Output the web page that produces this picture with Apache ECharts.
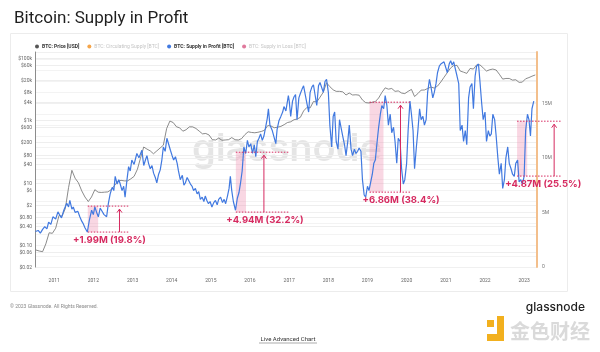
<!DOCTYPE html>
<html>
<head>
<meta charset="utf-8">
<script src="https://cdn.jsdelivr.net/npm/echarts@6/dist/echarts.min.js"></script>
<style>
  html, body { margin: 0; padding: 0; background: #fff; }
  #main { width: 600px; height: 352px; }
</style>
</head>
<body>
<div id="main"></div>
<script>
// BTC price, one value per month from 2010-07 to 2023-04 (USD)
var btcPrice = [
  0.07, 0.065, 0.062, 0.11, 0.25, 0.24,
  0.35, 0.9, 0.85, 1.5, 7, 25, 14, 10, 5.5, 3.5, 2.5, 3.5,
  6, 5, 4.9, 5, 5.1, 6, 8, 11, 12, 11.5, 11.5, 13.3,
  16, 27, 60, 140, 120, 105, 85, 105, 130, 160, 550, 950,
  850, 620, 580, 450, 500, 620, 620, 550, 450, 370, 380, 340,
  240, 235, 270, 230, 235, 240, 280, 240, 235, 260, 350, 430,
  410, 400, 415, 440, 480, 680, 660, 580, 605, 640, 730, 850,
  900, 1050, 1100, 1250, 2000, 2600, 2500, 4000, 3900, 5500, 8000, 16000,
  12000, 9500, 8500, 8500, 8200, 6500, 7500, 6500, 6600, 6400, 4500, 3700,
  3600, 3800, 4000, 5200, 7800, 11000, 10000, 10500, 8500, 8800, 7500, 7200,
  8500, 9800, 5800, 7200, 9300, 9400, 10500, 11700, 10800, 12500, 17000, 24000,
  34000, 48000, 57000, 58000, 38000, 35000, 32000, 46000, 44000, 60000, 60000, 48000,
  38000, 42000, 44000, 41000, 30000, 21000, 22000, 22000, 19500, 20000, 16500, 16800,
  21500, 23500, 26000, 28500
];

// Supply in profit before 2017 (millions of BTC)
var supplyEarlyDates = [
  '2010-07-10','2010-08-05','2010-08-25','2010-09-15','2010-10-05','2010-10-25','2010-11-10','2010-12-01','2010-12-20',
  '2011-01-15','2011-02-05','2011-02-25','2011-03-10','2011-04-01','2011-04-28','2011-05-15','2011-05-27','2011-06-15',
  '2011-06-28','2011-07-15','2011-07-27','2011-08-10','2011-08-28','2011-09-15','2011-09-27','2011-10-15','2011-11-06',
  '2011-11-25','2011-12-16','2012-01-01','2012-01-15','2012-02-01','2012-02-17','2012-03-05','2012-03-17','2012-04-10',
  '2012-05-04','2012-05-20','2012-06-06','2012-06-25','2012-07-10','2012-07-23','2012-08-10','2012-08-25','2012-09-05',
  '2012-09-25','2012-10-10','2012-10-23','2012-11-10','2012-11-25','2012-12-10','2012-12-25','2013-01-15','2013-02-10',
  '2013-03-01','2013-03-29','2013-04-15','2013-05-01','2013-05-15','2013-05-30','2013-06-15','2013-07-01','2013-07-16',
  '2013-08-01','2013-08-15','2013-09-01','2013-09-16','2013-10-01','2013-10-15','2013-11-01','2013-11-17','2013-12-05',
  '2013-12-20','2014-01-05','2014-01-19','2014-02-05','2014-02-21','2014-03-05','2014-03-22','2014-04-10','2014-04-25',
  '2014-05-08','2014-05-25','2014-06-10','2014-06-25','2014-07-10','2014-07-24','2014-08-10','2014-08-26','2014-09-10',
  '2014-09-25','2014-10-12','2014-10-28','2014-11-10','2014-11-25','2014-12-10','2014-12-25','2015-01-11','2015-01-28',
  '2015-02-13','2015-03-01','2015-03-15','2015-04-02','2015-04-20','2015-05-05','2015-05-19','2015-06-05','2015-06-20',
  '2015-07-02','2015-07-15','2015-07-30','2015-08-19','2015-09-05','2015-09-20','2015-10-05','2015-10-20','2015-11-05',
  '2015-11-22','2015-12-08','2015-12-22','2016-01-08','2016-01-25','2016-02-10','2016-02-24','2016-03-10','2016-03-25',
  '2016-04-09','2016-04-25','2016-05-10','2016-05-26','2016-06-10','2016-06-21','2016-07-05','2016-07-27','2016-08-10',
  '2016-08-29','2016-09-10','2016-09-27','2016-10-15','2016-11-01','2016-11-13','2016-12-01','2016-12-24'
];
var supplyEarlyM = [
  3.25, 3.35, 3.1, 3.45, 3.7, 3.5, 4.1, 3.9, 4.6,
  4.4, 5.05, 4.7, 4.5, 5.2, 5.85, 5.5, 6.1, 5.3,
  5.5, 5.0, 4.9, 5.1, 4.6, 4.2, 4.0, 3.6, 3.2,
  4.3, 5.2, 4.8, 5.5, 5.0, 4.6, 5.4, 5.2, 4.8,
  4.6, 5.8, 6.7, 7.3, 7.0, 8.3, 7.6, 8.0, 7.7,
  7.0, 7.4, 6.4, 8.0, 9.2, 8.8, 9.8, 9.4, 10.4,
  10.0, 10.7, 9.3, 9.8, 10.2, 9.5, 9.0, 9.3, 8.6,
  8.2, 7.7, 8.5, 8.9, 9.8, 11.0, 10.6, 11.8, 11.2,
  10.7, 10.2, 9.8, 10.1, 9.5, 8.8, 8.0, 8.4, 7.5,
  7.7, 8.2, 8.3, 7.6, 7.4, 7.0, 7.2, 6.7, 6.9,
  6.2, 6.4, 6.0, 6.5, 6.1, 5.8, 6.0, 5.5, 5.9,
  6.1, 5.7, 6.2, 6.4, 5.9, 6.2, 5.8, 6.5, 7.2,
  8.3, 7.0, 6.0, 5.2, 6.3, 6.8, 7.7, 8.8, 11.0,
  10.4, 11.6, 11.0, 11.3, 10.4, 11.2, 10.1, 11.5, 11.8,
  12.2, 11.6, 12.0, 11.9, 13.6, 14.5, 13.0, 12.5, 12.0,
  11.3, 12.6, 13.4, 13.8, 14.2, 14.7, 14.3, 15.7
];

// Supply in profit from 2017, on the 1st and 15th of each month (millions of BTC)
var supplyLateM = [
  15.2, 13.8, 15.2, 15.6, 15.8, 13.5, 15.5, 15.9, 16.3, 16.6, 16.6, 15.0, 14.2, 16.0, 16.5, 16.7, 16.8, 14.8, 16.6, 16.9, 16.8, 16.0, 17.0, 17.2,
  16.0, 13.0, 11.0, 13.8, 14.2, 11.5, 10.8, 13.5, 13.6, 12.0, 11.2, 10.2, 11.5, 13.0, 10.8, 10.2, 10.8, 10.4, 10.6, 10.9, 10.6, 8.0, 6.6, 6.4,
  7.4, 7.0, 6.9, 8.5, 9.5, 9.8, 11.5, 12.8, 14.0, 14.8, 14.5, 15.7, 14.8, 13.0, 14.0, 12.3, 12.8, 11.5, 9.5, 11.8, 11.5, 9.0, 7.6, 8.0,
  9.5, 12.5, 15.2, 14.0, 12.5, 9.0, 11.0, 12.5, 14.5, 13.5, 13.8, 13.0, 13.5, 16.0, 17.2, 16.5, 15.5, 16.0, 16.8, 17.8, 18.4, 18.6, 18.5, 18.8,
  18.8, 17.8, 18.6, 18.9, 18.5, 18.8, 18.9, 17.5, 16.8, 12.5, 13.0, 11.5, 12.5, 11.2, 15.5, 16.5, 16.8, 14.5, 17.5, 18.4, 18.6, 17.0, 15.0, 13.5,
  14.2, 11.5, 12.5, 12.0, 12.2, 14.0, 13.5, 12.0, 10.0, 8.5, 9.5, 7.2, 8.0, 10.0, 11.0, 9.5, 9.0, 8.5, 8.3, 9.5, 9.8, 7.8, 8.0, 7.6,
  8.3, 12.5, 14.0, 13.5, 12.0, 14.5, 15.2
];

// left axis ticks (log scale)
var priceTicks = [100000, 60000, 20000, 8000, 4000, 1000, 600, 200, 80, 40, 10, 6, 2, 0.8, 0.4, 0.1, 0.06, 0.02];
var priceTickLabels = ['$100k', '$60k', '$20k', '$8k', '$4k', '$1k', '$600', '$200', '$80', '$40', '$10', '$6', '$2', '$0.80', '$0.40', '$0.10', '$0.06', '$0.02'];
var years = [2011, 2012, 2013, 2014, 2015, 2016, 2017, 2018, 2019, 2020, 2021, 2022, 2023];

// annotations: accumulation windows
var annStart = ['2011-11-10', '2015-08-22', '2019-01-20', '2022-10-27'];
var annShadeEnd = ['2012-02-15', '2015-11-25', '2019-05-30', '2023-01-30'];
var annLineEnd = ['2012-12-01', '2017-01-01', '2020-02-15', '2023-12-15'];
var annArrow = ['2012-09-01', '2016-05-10', '2019-11-05', '2023-10-08'];
var annTextAt = ['2012-05-30', '2016-05-20', '2019-11-10', '2023-06-28'];
var annLowM = [3.2, 5.03, 6.86, 8.33];
var annHighM = [5.58, 10.52, 15.1, 13.36];
var annLabel = ['+1.99M (19.8%)', '+4.94M (32.2%)', '+6.86M (38.4%)', '+4.87M (25.5%)'];

function toTime(d) {
    var p = d.split('-');
    return new Date(+p[0], +p[1] - 1, +p[2]).getTime();
}

var priceData = btcPrice.map(function (v, i) {
    return [new Date(2010, 6 + i, 15).getTime(), v];
});
var profitData = supplyEarlyDates.map(function (d, i) {
    return [toTime(d), supplyEarlyM[i] * 1e6];
});
supplyLateM.forEach(function (v, i) {
    var d = new Date(2017, Math.floor(i / 2), i % 2 ? 15 : 1);
    profitData.push([d.getTime(), v * 1e6]);
});

var red = '#d62a60';
var dimText = { color: '#c4c4c4', fontWeight: 400 };
var chart = echarts.init(document.getElementById('main'));
var option = {
    animation: false,
    textStyle: { fontFamily: 'Roboto, sans-serif' },
    title: {
        text: 'Bitcoin: Supply in Profit',
        left: 9, top: 5,
        textStyle: { fontSize: 17, fontWeight: 400, color: '#1f1f1f', fontFamily: 'Roboto' }
    },
    legend: {
        left: 30, top: 39,
        icon: 'circle', itemWidth: 4, itemHeight: 4, itemGap: 8,
        textStyle: { fontSize: 5, fontWeight: 700, color: '#333', padding: [0, 0, 0, -2] },
        data: [
            { name: 'BTC: Price [USD]' },
            { name: 'BTC: Circulating Supply [BTC]', textStyle: dimText },
            { name: 'BTC: Supply in Profit [BTC]' },
            { name: 'BTC: Supply in Loss [BTC]', textStyle: dimText }
        ]
    },
    grid: { left: 35, right: 63, top: 52, bottom: 85, outerBoundsMode: 'none' },
    xAxis: {
        type: 'time',
        min: new Date(2010, 6, 6).getTime(),
        max: new Date(2023, 4, 1).getTime(),
        axisLine: { show: false },
        axisTick: { show: false },
        splitLine: { show: false },
        axisLabel: { show: false }
    },
    yAxis: [{
        type: 'log', min: 0.02, max: 155000,
        axisLine: { show: true, lineStyle: { color: '#8c8c8c', width: 1 } },
        axisLabel: { show: false },
        axisTick: { show: false },
        splitLine: { show: false }
    }, {
        type: 'value', min: 0, max: 19.7e6, interval: 5e6, position: 'right',
        axisLine: { show: true, lineStyle: { color: '#f3bf8c', width: 2 } },
        axisTick: { show: false },
        axisLabel: {
            fontSize: 5, color: '#777', margin: 5, showMaxLabel: false,
            formatter: function (v) { return v === 0 ? '0' : (v / 1e6) + 'M'; }
        },
        splitLine: { show: true, lineStyle: { color: '#f0f0f0', width: 1 } },
        minorTick: { show: false, splitNumber: 5 },
        minorSplitLine: { show: true, lineStyle: { color: '#f3f3f3', width: 1 } }
    }],
    series: [{
        name: 'BTC: Price [USD]', type: 'line', yAxisIndex: 0,
        data: priceData, showSymbol: false, z: 3,
        itemStyle: { color: '#555' },
        lineStyle: { color: '#6d6d6d', width: 0.8 }
    }, {
        name: 'BTC: Circulating Supply [BTC]', type: 'line', yAxisIndex: 1,
        data: [], itemStyle: { color: '#f5a54a' }
    }, {
        name: 'BTC: Supply in Profit [BTC]', type: 'line', yAxisIndex: 1,
        data: profitData, showSymbol: false, z: 4,
        itemStyle: { color: '#4179e0' },
        lineStyle: { color: '#4179e0', width: 1.2 }
    }, {
        name: 'BTC: Supply in Loss [BTC]', type: 'line', yAxisIndex: 1,
        data: [], itemStyle: { color: '#e0799c' }
    }]
};
chart.setOption(option);

// extra drawing through the chart's own scales
function xPix(d) { return chart.convertToPixel({ xAxisIndex: 0 }, typeof d === 'string' ? toTime(d) : d); }
function pricePix(v) { return chart.convertToPixel({ yAxisIndex: 0 }, v); }
function supplyPix(v) { return chart.convertToPixel({ yAxisIndex: 1 }, v); }

var gx0 = xPix(option.xAxis.min), gx1 = xPix(option.xAxis.max);
var gy1 = supplyPix(0);
var graphics = [];

// card outline and footer
graphics.push({ type: 'rect', z: -20, shape: { x: 10.5, y: 33.5, width: 557, height: 258 }, style: { fill: 'none', stroke: '#ececec', lineWidth: 1 } });
graphics.push({ type: 'text', x: 10, y: 307, style: { text: '© 2023 Glassnode. All Rights Reserved.', fontSize: 5, fill: '#888', verticalAlign: 'middle', fontFamily: 'Roboto' } });
graphics.push({ type: 'text', x: 585, y: 307, style: { text: 'glassnode', fontSize: 12, fill: '#222', align: 'right', verticalAlign: 'middle', fontFamily: 'Inter', fontWeight: 500 } });
graphics.push({ type: 'text', x: 288, y: 339, style: { text: 'Live Advanced Chart', fontSize: 6, fill: '#333', align: 'center', verticalAlign: 'middle', fontFamily: 'Roboto' } });
graphics.push({ type: 'line', shape: { x1: 259, y1: 343, x2: 317, y2: 343 }, style: { stroke: '#555', lineWidth: 0.5 } });

// 金色财经 watermark
graphics.push({ type: 'rect', shape: { x: 487, y: 320, width: 7, height: 7 }, style: { fill: '#f2b01e' } });
graphics.push({ type: 'rect', shape: { x: 497, y: 316, width: 7, height: 25 }, style: { fill: '#f2b01e' } });
graphics.push({ type: 'rect', shape: { x: 487, y: 334, width: 17, height: 7 }, style: { fill: '#f2b01e' } });
graphics.push({ type: 'text', x: 550, y: 331, style: { text: '金色财经', fontSize: 20, fill: '#dadada', align: 'center', verticalAlign: 'middle', fontFamily: 'Noto Sans CJK SC', fontWeight: 700 } });

// glassnode watermark inside the plot
graphics.push({ type: 'text', z: -5, x: 287, y: 150, style: { text: 'glassnode', fontSize: 38, fill: 'rgba(0,0,0,0.10)', align: 'center', verticalAlign: 'middle', fontFamily: 'Inter', fontWeight: 600 } });

// year labels under the plot
years.forEach(function (y) {
    graphics.push({ type: 'text', x: xPix(new Date(y, 0, 1).getTime()), y: gy1 + 14, style: { text: String(y), fontSize: 5, fill: '#666', align: 'center', verticalAlign: 'middle', fontFamily: 'Roboto' } });
});

// left log-axis labels and grid lines
priceTicks.forEach(function (v, i) {
    var y = Math.round(pricePix(v)) + 0.5;
    graphics.push({ type: 'line', z: -4, shape: { x1: gx0, y1: y, x2: gx1, y2: y }, style: { stroke: '#eeeeee', lineWidth: 1 } });
    graphics.push({ type: 'text', x: gx0 - 3, y: y, style: { text: priceTickLabels[i], fontSize: 5, fill: '#666', align: 'right', verticalAlign: 'middle', fontFamily: 'Roboto' } });
});

// annotations
annStart.forEach(function (d, i) {
    var xs = xPix(d), xe = xPix(annShadeEnd[i]), xl = xPix(annLineEnd[i]);
    var xa = xPix(annArrow[i]), xt = xPix(annTextAt[i]);
    var yl = supplyPix(annLowM[i] * 1e6), yh = supplyPix(annHighM[i] * 1e6);
    graphics.push({ type: 'rect', z: 1, shape: { x: xs, y: yh, width: xe - xs, height: yl - yh }, style: { fill: 'rgba(238,140,175,0.35)' } });
    graphics.push({ type: 'line', z: 10, shape: { x1: xs, y1: yh, x2: xl, y2: yh }, style: { stroke: red, lineWidth: 1, lineDash: [1.5, 1.5] } });
    graphics.push({ type: 'line', z: 10, shape: { x1: xs, y1: yl, x2: xl, y2: yl }, style: { stroke: red, lineWidth: 1, lineDash: [1.5, 1.5] } });
    graphics.push({ type: 'line', z: 10, shape: { x1: xa, y1: yl, x2: xa, y2: yh + 3 }, style: { stroke: red, lineWidth: 1 } });
    graphics.push({ type: 'polyline', z: 10, shape: { points: [[xa - 2.5, yh + 6.5], [xa, yh + 3], [xa + 2.5, yh + 6.5]] }, style: { stroke: red, lineWidth: 1, fill: 'none' } });
    graphics.push({ type: 'text', z: 10, x: xt, y: yl + 8, style: { text: annLabel[i], fontSize: 9.5, fontWeight: 700, fill: red, align: 'center', verticalAlign: 'middle', fontFamily: 'Inter' } });
});

chart.setOption({ graphic: graphics });
</script>
</body>
</html>
